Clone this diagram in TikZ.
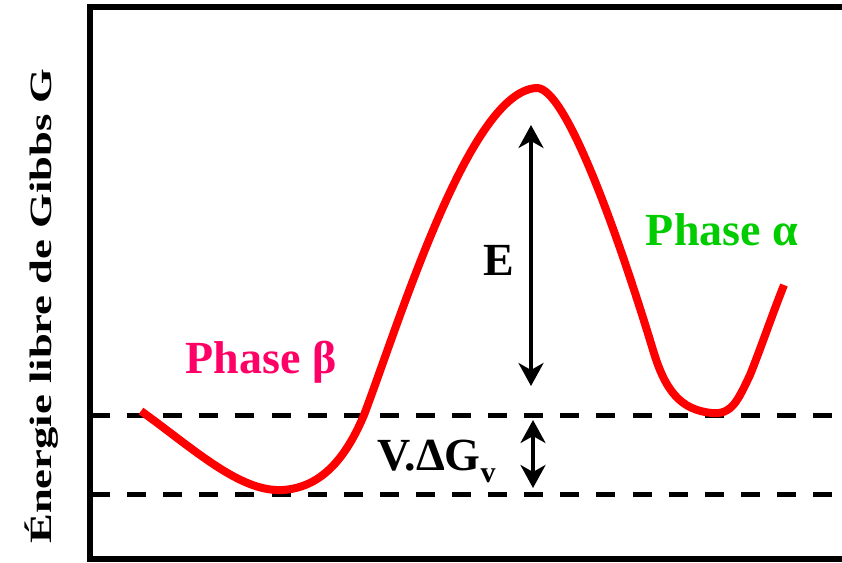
\documentclass[tikz,border=0pt]{standalone}
\usepackage{fontspec}
\setmainfont{Liberation Serif}
\usetikzlibrary{arrows.meta}
\definecolor{betacol}{RGB}{255,0,102}
\definecolor{alphacol}{RGB}{0,204,0}
\begin{document}
\begin{tikzpicture}[x=1pt,y=-1pt,
  axisline/.style={line width=6pt},
  levelline/.style={line width=5pt, dash pattern=on 19pt off 17.1pt},
  curveline/.style={line width=8pt, red},
  dimarrow/.style={line width=3.5pt, {Stealth[length=23pt,width=25pt,inset=7pt]}-{Stealth[length=23pt,width=25pt,inset=7pt]}},
  lbl/.style={font=\fontsize{46}{50}\selectfont\bfseries, inner sep=0pt}
]
\useasboundingbox (0,0) rectangle (842,562);
% frame
\coordinate (tl) at (90,7);
\coordinate (tr) at (845,7);
\coordinate (bl) at (90,559);
\coordinate (br) at (845,559);
\draw[axisline] (tr) -- (tl) -- (bl) -- (br);
% levels
\coordinate (l1a) at (91,415);
\coordinate (l1b) at (842,415);
\coordinate (l2a) at (91,494);
\coordinate (l2b) at (842,494);
\draw[levelline] (l1a) -- (l1b);
\draw[levelline] (l2a) -- (l2b);
% curve
\coordinate (c0) at (141,411);
\coordinate (c1) at (282,490);
\coordinate (c2) at (364,415);
\coordinate (c3) at (537,88);
\coordinate (c4) at (653,350);
\coordinate (c5) at (712,413);
\coordinate (c6) at (750,375);
\coordinate (c7) at (784,285);
\draw[curveline] (c0) .. controls (195,450) and (240,492) .. (c1)
  .. controls (320,488) and (345,460) .. (c2)
  .. controls (400,320) and (470,90) .. (c3)
  .. controls (565,88) and (615,225) .. (c4)
  .. controls (665,390) and (680,410) .. (c5)
  .. controls (732,415) and (738,400) .. (c6)
  .. controls (762,345) and (772,315) .. (c7);
% arrows
\coordinate (ea) at (531,125);
\coordinate (eb) at (531,386);
\draw[dimarrow] (ea) -- (eb);
\coordinate (va) at (533,420);
\coordinate (vb) at (533,488);
\draw[dimarrow] (va) -- (vb);
% labels
\node[lbl, anchor=base] (E) at (499,275) {E};
\node[lbl, anchor=base west] (V) at (377,470) {V.ΔG\raisebox{-12pt}{\fontsize{30}{32}\selectfont v}};
\node[lbl, anchor=base, text=betacol] (beta) at (261,373) {Phase β};
\node[lbl, anchor=base, text=alphacol] (alpha) at (722,245) {Phase α};
\node[font=\fontsize{31}{34}\selectfont\bfseries, inner sep=0pt, rotate=90, anchor=base] (ylab) at (51,306) {\scalebox{1.44}[1]{Énergie libre de Gibbs G}};
\end{tikzpicture}
\end{document}
